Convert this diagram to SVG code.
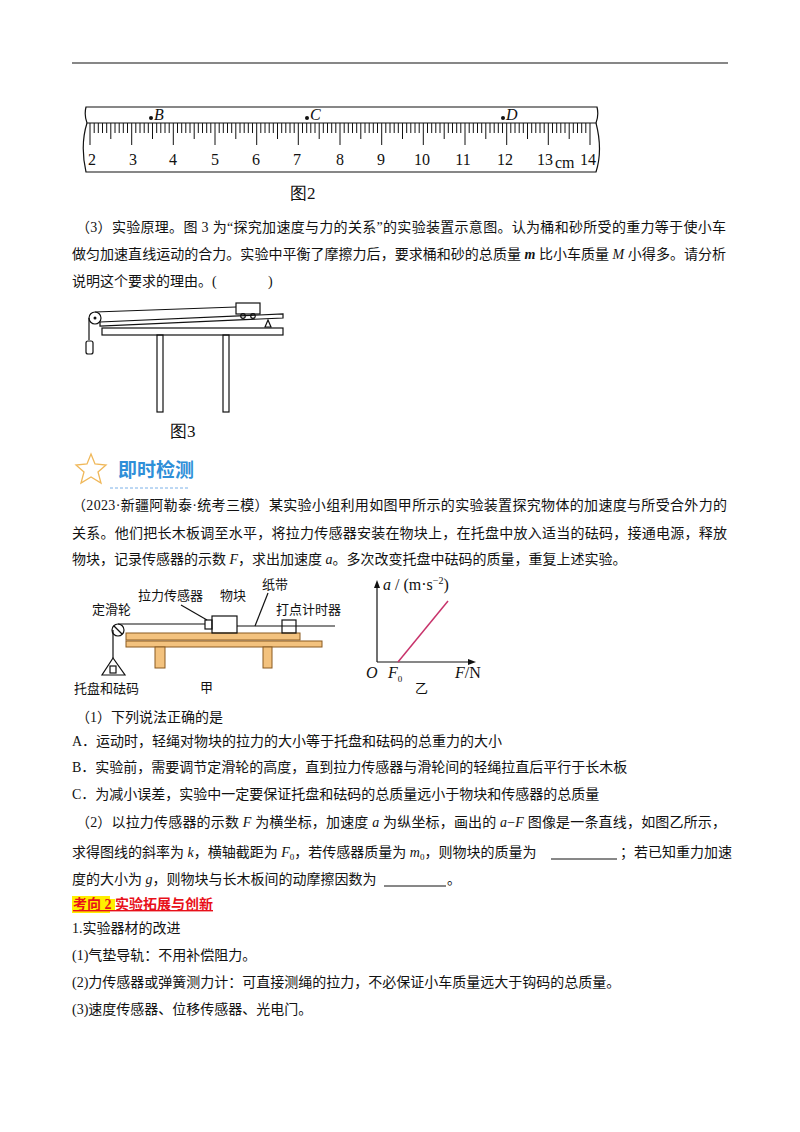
<svg xmlns="http://www.w3.org/2000/svg" width="800" height="1132" viewBox="0 0 800 1132">
<style>
.t{font-family:"Liberation Serif","Noto Sans CJK SC",serif;font-size:14px;fill:#111}
.s{font-family:"Liberation Serif","Noto Sans CJK SC",serif;font-size:13px;fill:#111}
.n{font-family:"Liberation Serif",serif;font-size:16px;fill:#111}
.i{font-style:italic}
.ln{stroke:#111;stroke-width:1.2;fill:none}
.wood{fill:#f3c27e;stroke:#8a5a20;stroke-width:1}
</style>
<rect width="800" height="1132" fill="#fff"/>
<line x1="72" y1="63" x2="728" y2="63" stroke="#111" stroke-width="1.2"/>

<g id="ruler">
<path class="ln" d="M86,107 L597,107 Q599,115 596,123 L87,123 Q84,115 86,107 Z"/>
<path class="ln" d="M87,123 Q80,145 86,172 L596,172 Q603,150 596,123"/>
<g stroke="#111" stroke-width="1">
<path d="M90,123V145M131.7,123V145M173.3,123V145M215,123V145M256.7,123V145M298.3,123V145M340,123V145M381.7,123V145M423.3,123V145M465,123V145M506.7,123V145M548.3,123V145M590,123V145"/>
<path d="M110.8,123V139M152.5,123V139M194.2,123V139M235.8,123V139M277.5,123V139M319.2,123V139M360.8,123V139M402.5,123V139M444.2,123V139M485.8,123V139M527.5,123V139M569.2,123V139"/>
<path d="M94.2,123v10M98.3,123v10M102.5,123v10M106.7,123v10M115,123v10M119.2,123v10M123.3,123v10M127.5,123v10M135.8,123v10M140,123v10M144.2,123v10M148.3,123v10M156.7,123v10M160.8,123v10M165,123v10M169.2,123v10M177.5,123v10M181.7,123v10M185.8,123v10M190,123v10M198.3,123v10M202.5,123v10M206.7,123v10M210.8,123v10M219.2,123v10M223.3,123v10M227.5,123v10M231.7,123v10M240,123v10M244.2,123v10M248.3,123v10M252.5,123v10M260.8,123v10M265,123v10M269.2,123v10M273.3,123v10M281.7,123v10M285.8,123v10M290,123v10M294.2,123v10M302.5,123v10M306.7,123v10M310.8,123v10M315,123v10M323.3,123v10M327.5,123v10M331.7,123v10M335.8,123v10M344.2,123v10M348.3,123v10M352.5,123v10M356.7,123v10M365,123v10M369.2,123v10M373.3,123v10M377.5,123v10M385.8,123v10M390,123v10M394.2,123v10M398.3,123v10M406.7,123v10M410.8,123v10M415,123v10M419.2,123v10M427.5,123v10M431.7,123v10M435.8,123v10M440,123v10M448.3,123v10M452.5,123v10M456.7,123v10M460.8,123v10M469.2,123v10M473.3,123v10M477.5,123v10M481.7,123v10M490,123v10M494.2,123v10M498.3,123v10M502.5,123v10M510.8,123v10M515,123v10M519.2,123v10M523.3,123v10M531.7,123v10M535.8,123v10M540,123v10M544.2,123v10M552.5,123v10M556.7,123v10M560.8,123v10M565,123v10M573.3,123v10M577.5,123v10M581.7,123v10M585.8,123v10"/>
</g>
<g class="n" text-anchor="middle">
<text x="92" y="165">2</text><text x="133" y="165">3</text><text x="173" y="165">4</text><text x="215" y="165">5</text><text x="256" y="165">6</text><text x="297" y="165">7</text><text x="340" y="165">8</text><text x="381" y="165">9</text><text x="422" y="165">10</text><text x="463" y="165">11</text><text x="505" y="165">12</text><text x="545" y="165">13</text><text x="588" y="165">14</text>
</g>
<text class="n" x="555" y="168">cm</text>
<circle cx="151" cy="118" r="2" fill="#111"/><text class="n i" x="154" y="120">B</text>
<circle cx="307" cy="118" r="2" fill="#111"/><text class="n i" x="310" y="120">C</text>
<circle cx="503" cy="118" r="2" fill="#111"/><text class="n i" x="506" y="120">D</text>
<text class="n" x="290" y="199" style="font-size:17px">图2</text>
</g>

<g id="text3">
<text class="t" x="76" y="232" textLength="650">（3）实验原理。图 3 为“探究加速度与力的关系”的实验装置示意图。认为桶和砂所受的重力等于使小车</text>
<text class="t" x="72" y="259" textLength="654">做匀加速直线运动的合力。实验中平衡了摩擦力后，要求桶和砂的总质量 <tspan font-weight="bold" font-style="italic">m</tspan> 比小车质量 <tspan font-style="italic">M</tspan> 小得多。请分析</text>
<text class="t" x="72" y="286">说明这个要求的理由。(</text>
<text class="t" x="268" y="286">)</text>
</g>

<g id="fig3">
<rect x="102" y="328" width="181" height="7" class="ln"/>
<rect x="157" y="335" width="6" height="77" class="ln"/>
<rect x="223" y="335" width="6" height="77" class="ln"/>
<path class="ln" d="M100,322 L283,314 L283,318 L100,326 Z"/>
<path class="ln" d="M265,327 L268,320 L271,327 Z"/>
<circle cx="95" cy="318" r="6" class="ln"/>
<circle cx="95" cy="318" r="1.5" fill="#111"/>
<line class="ln" x1="95" y1="312" x2="236" y2="307"/>
<rect x="236" y="303" width="24" height="11" class="ln"/>
<circle cx="243" cy="316" r="2.3" class="ln"/><circle cx="253" cy="316" r="2.3" class="ln"/>
<line class="ln" x1="89" y1="318" x2="89" y2="340"/>
<rect x="86" y="341" width="7" height="13" rx="2" class="ln"/>
<text class="n" x="170" y="437" style="font-size:17px">图3</text>
</g>

<g id="header">
<path d="M91,454 L95,464 L106,465 L98,472 L101,483 L91,477 L81,483 L84,472 L76,465 L87,464 Z" fill="none" stroke="#f0b85a" stroke-width="1.3"/>
<text x="118" y="477" font-family="Noto Sans CJK SC,sans-serif" font-size="19" fill="#2f8fd8" font-weight="bold">即时检测</text>
<line x1="110" y1="488" x2="190" y2="488" stroke="#7ab0e8" stroke-width="1" stroke-dasharray="3,2"/>
</g>

<g id="para">
<text class="t" x="72" y="510" textLength="655">（2023·新疆阿勒泰·统考三模）某实验小组利用如图甲所示的实验装置探究物体的加速度与所受合外力的</text>
<text class="t" x="72" y="538" textLength="655">关系。他们把长木板调至水平，将拉力传感器安装在物块上，在托盘中放入适当的砝码，接通电源，释放</text>
<text class="t" x="72" y="564">物块，记录传感器的示数 <tspan font-style="italic">F</tspan>，求出加速度 <tspan font-style="italic">a</tspan>。多次改变托盘中砝码的质量，重复上述实验。</text>
</g>

<g id="figjia">
<rect x="126" y="633" width="174" height="7" class="wood"/>
<rect x="126" y="641" width="196" height="6" class="wood"/>
<rect x="155" y="647" width="10" height="21" class="wood"/>
<rect x="263" y="647" width="9" height="21" class="wood"/>
<line class="ln" x1="118" y1="624" x2="205" y2="624"/>
<line class="ln" x1="237" y1="626" x2="335" y2="626"/>
<rect x="212" y="616" width="25" height="17" fill="#fff" class="ln"/>
<rect x="205" y="620" width="7" height="9" fill="#fff" class="ln"/>
<rect x="282" y="620" width="14" height="13" fill="#fff" class="ln"/>
<circle cx="118" cy="630" r="6" fill="#fff" class="ln"/>
<line class="ln" x1="114" y1="626" x2="122" y2="634"/>
<line class="ln" x1="113" y1="630" x2="113" y2="658"/>
<path class="ln" d="M113,658 L102,675 L125,675 Z"/>
<rect x="110" y="666" width="6" height="7" class="ln"/>
<line class="ln" x1="181" y1="605" x2="207" y2="620" stroke-width="0.9"/>
<line class="ln" x1="268" y1="593" x2="255" y2="626" stroke-width="0.9"/>
<text class="s" x="92" y="614">定滑轮</text>
<text class="s" x="138" y="600">拉力传感器</text>
<text class="s" x="220" y="600">物块</text>
<text class="s" x="262" y="589">纸带</text>
<text class="s" x="276" y="614">打点计时器</text>
<text class="s" x="74" y="693">托盘和砝码</text>
<text class="s" x="200" y="692">甲</text>
</g>

<g id="figyi">
<line class="ln" x1="377" y1="662" x2="377" y2="585"/>
<path d="M377,580 L374,588 L380,588 Z" fill="#111"/>
<line class="ln" x1="377" y1="662" x2="470" y2="662"/>
<path d="M476,662 L468,659 L468,665 Z" fill="#111"/>
<line x1="398" y1="662" x2="448" y2="601" stroke="#c8336b" stroke-width="1.5"/>
<text class="n" x="383" y="590"><tspan font-style="italic">a</tspan> / (m·s<tspan dy="-6" font-size="10">−2</tspan><tspan dy="6">)</tspan></text>
<text class="n i" x="366" y="678">O</text>
<text class="n" x="388" y="678"><tspan font-style="italic">F</tspan><tspan font-size="9" dy="4">0</tspan></text>
<text class="n" x="455" y="678"><tspan font-style="italic">F</tspan>/N</text>
<text class="s" x="415" y="693">乙</text>
</g>

<g id="questions">
<text class="t" x="76" y="722">（1）下列说法正确的是</text>
<text class="t" x="72" y="746">A．运动时，轻绳对物块的拉力的大小等于托盘和砝码的总重力的大小</text>
<text class="t" x="72" y="772">B．实验前，需要调节定滑轮的高度，直到拉力传感器与滑轮间的轻绳拉直后平行于长木板</text>
<text class="t" x="72" y="799">C．为减小误差，实验中一定要保证托盘和砝码的总质量远小于物块和传感器的总质量</text>
<text class="t" x="76" y="827" textLength="650">（2）以拉力传感器的示数 <tspan font-style="italic">F</tspan> 为横坐标，加速度 <tspan font-style="italic">a</tspan> 为纵坐标，画出的 <tspan font-style="italic">a</tspan>−<tspan font-style="italic">F</tspan> 图像是一条直线，如图乙所示，</text>
<text class="t" x="72" y="857">求得图线的斜率为 <tspan font-style="italic">k</tspan>，横轴截距为 <tspan font-style="italic">F</tspan><tspan font-size="9" dy="3">0</tspan><tspan dy="-3">，若传感器质量为 </tspan><tspan font-style="italic">m</tspan><tspan font-size="9" dy="3">0</tspan><tspan dy="-3">，则物块的质量为</tspan></text>
<line x1="551" y1="859" x2="617" y2="859" stroke="#111"/>
<text class="t" x="620" y="857">；若已知重力加速</text>
<text class="t" x="72" y="884">度的大小为 <tspan font-style="italic">g</tspan>，则物块与长木板间的动摩擦因数为</text>
<line x1="384" y1="886" x2="446" y2="886" stroke="#111"/>
<text class="t" x="447" y="884">。</text>
<rect x="72" y="896" width="38" height="17" fill="#ffee00"/>
<rect x="110" y="899" width="5" height="12" fill="#ffee00"/>
<text x="73" y="909" font-family="Liberation Serif,Noto Sans CJK SC,serif" font-size="14" font-weight="bold" fill="#e8101a" text-decoration="underline">考向 2  实验拓展与创新</text>
<text class="t" x="72" y="933">1.实验器材的改进</text>
<text class="t" x="72" y="960">(1)气垫导轨：不用补偿阻力。</text>
<text class="t" x="72" y="987">(2)力传感器或弹簧测力计：可直接测绳的拉力，不必保证小车质量远大于钩码的总质量。</text>
<text class="t" x="72" y="1014">(3)速度传感器、位移传感器、光电门。</text>
</g>
</svg>
